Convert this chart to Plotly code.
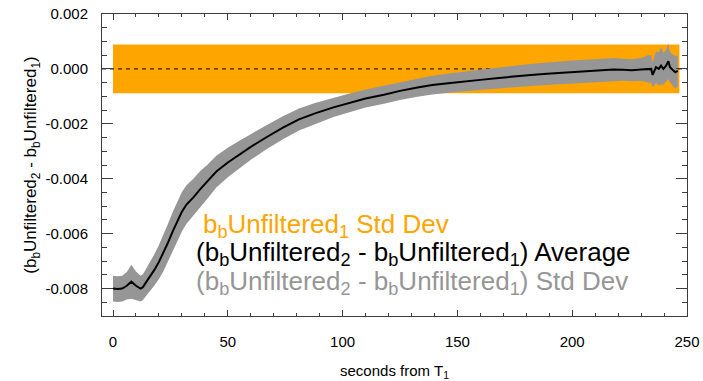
import plotly.graph_objects as go

# ---- data ----
seconds = [0, 2, 4, 6, 8, 10, 12, 13, 14, 16, 18, 20, 22, 24, 26, 28, 30, 32, 35, 38, 41, 45,
           50, 55, 60, 67, 74, 81, 88, 96, 103, 110, 118, 125, 132, 139, 147, 154, 161, 168,
           175, 182, 189, 196, 203, 210, 215, 218, 222, 226, 230, 232, 233, 234.4, 235,
           236.5, 237.7, 238.7, 239.7, 240.9, 241.9, 242.6, 243.7, 244.9, 246]
diff_avg = [-0.00800, -0.00802, -0.00800, -0.00790, -0.00775, -0.00790, -0.00800, -0.00795,
            -0.00782, -0.00758, -0.00732, -0.00703, -0.00670, -0.00632, -0.00592, -0.00555,
            -0.00520, -0.00494, -0.00468, -0.00438, -0.00412, -0.00374, -0.00341, -0.00312,
            -0.00284, -0.00248, -0.00214, -0.00184, -0.00162, -0.00140, -0.00124, -0.00108,
            -0.00094, -0.00080, -0.00069, -0.00059, -0.00051, -0.00044, -0.00039, -0.00033,
            -0.00027, -0.00022, -0.00018, -0.00014, -0.00010, -0.00007, -0.00004, -0.00002,
            -0.00003, -0.00005, -0.00002, -0.00001, 0.00000, 0.00000, -0.00022, 0.00006,
            0.00000, 0.00012, 0.00000, 0.00012, 0.00028, 0.00006, -0.00003, -0.00012, -0.00007]
diff_std = [0.00047, 0.00047, 0.00047, 0.00050, 0.00062, 0.00052, 0.00047, 0.00047,
            0.00048, 0.00052, 0.00057, 0.00062, 0.00066, 0.00069, 0.00071, 0.00072,
            0.00072, 0.00070, 0.00068, 0.00066, 0.00062, 0.00058, 0.00054, 0.00050,
            0.00047, 0.00044, 0.00042, 0.00040, 0.00038, 0.00035, 0.00034, 0.00033,
            0.00033, 0.00033, 0.00033, 0.00034, 0.00035, 0.00036, 0.00037, 0.00038,
            0.00039, 0.00040, 0.00041, 0.00042, 0.00042, 0.00042, 0.00042, 0.00042,
            0.00040, 0.00040, 0.00042, 0.00046, 0.00050, 0.00050, 0.00045, 0.00057,
            0.00060, 0.00068, 0.00058, 0.00058, 0.00065, 0.00055, 0.00056, 0.00060, 0.00055]
ref_seconds = [0, 246.7]
ref_std = [0.00089, 0.00089]

x_range = [-4.8, 250]
y_range = [-0.009, 0.002]
y_tick_vals = [0.002, 0.0, -0.002, -0.004, -0.006, -0.008]
y_tick_text = ["0.002", "0.000", "-0.002", "-0.004", "-0.006", "-0.008"]

ORANGE = "#FFA500"
GRAY = "#969696"
AXIS = "#3c3c3c"
FONT = "Liberation Sans, Arial, sans-serif"

fig = go.Figure()

# orange std-dev band of reference
fig.add_trace(go.Scatter(x=ref_seconds, y=[s for s in ref_std], mode="lines",
                         line=dict(width=0, color=ORANGE), hoverinfo="skip", showlegend=False))
fig.add_trace(go.Scatter(x=ref_seconds, y=[-s for s in ref_std], mode="lines",
                         line=dict(width=0, color=ORANGE), fill="tonexty", fillcolor=ORANGE,
                         hoverinfo="skip", showlegend=False))
# dashed zero line
fig.add_trace(go.Scatter(x=x_range, y=[0, 0], mode="lines",
                         line=dict(color="black", width=1, dash="4px,4px"),
                         hoverinfo="skip", showlegend=False))
# gray std-dev band of the difference
upper = [m + s for m, s in zip(diff_avg, diff_std)]
lower = [m - s for m, s in zip(diff_avg, diff_std)]
fig.add_trace(go.Scatter(x=seconds, y=upper, mode="lines", line=dict(width=0, color=GRAY),
                         hoverinfo="skip", showlegend=False))
fig.add_trace(go.Scatter(x=seconds, y=lower, mode="lines", line=dict(width=0, color=GRAY),
                         fill="tonexty", fillcolor=GRAY, hoverinfo="skip", showlegend=False))
# average
fig.add_trace(go.Scatter(x=seconds, y=diff_avg, mode="lines",
                         line=dict(color="black", width=2), showlegend=False))

labels = [
    ("b<sub>b</sub>Unfiltered<sub>1</sub> Std Dev", ORANGE, 38.5, -0.00570),
    ("(b<sub>b</sub>Unfiltered<sub>2</sub> - b<sub>b</sub>Unfiltered<sub>1</sub>) Average", "black", 35.3, -0.00674),
    ("(b<sub>b</sub>Unfiltered<sub>2</sub> - b<sub>b</sub>Unfiltered<sub>1</sub>) Std Dev", GRAY, 35.3, -0.00779),
]
for txt, col, lx, ly in labels:
    fig.add_annotation(x=lx, y=ly, xref="x", yref="y", text=txt, showarrow=False,
                       xanchor="left", yanchor="middle",
                       font=dict(family=FONT, size=26, color=col))

fig.update_layout(
    width=703, height=381,
    margin=dict(l=102, r=16, t=14, b=65),
    paper_bgcolor="white", plot_bgcolor="white",
    font=dict(family=FONT, color="black"),
    showlegend=False,
)
fig.update_xaxes(
    range=x_range, showgrid=False, zeroline=False, automargin=False,
    showline=True, linecolor=AXIS, linewidth=1, mirror="ticks",
    ticks="inside", ticklen=6, tickcolor=AXIS, tick0=0, dtick=50,
    minor=dict(ticks="inside", ticklen=3, dtick=10, tick0=0, tickcolor=AXIS, showgrid=False),
    tickfont=dict(family=FONT, size=15, color="black"), ticklabelstandoff=12,
    title=dict(text="seconds from T<sub>1</sub>", font=dict(family=FONT, size=15), standoff=16),
)
fig.update_yaxes(
    range=y_range, showgrid=False, zeroline=False, automargin=False,
    showline=True, linecolor=AXIS, linewidth=1, mirror="ticks",
    ticks="inside", ticklen=11, tickcolor=AXIS,
    tickvals=y_tick_vals, ticktext=y_tick_text,
    minor=dict(ticks="inside", ticklen=5, dtick=0.0005, tick0=0, tickcolor=AXIS, showgrid=False),
    tickfont=dict(family=FONT, size=15, color="black"), ticklabelstandoff=10,
    title=dict(text="(b<sub>b</sub>Unfiltered<sub>2</sub> - b<sub>b</sub>Unfiltered<sub>1</sub>)",
               font=dict(family=FONT, size=17), standoff=4),
)

fig.write_html("out.html")
